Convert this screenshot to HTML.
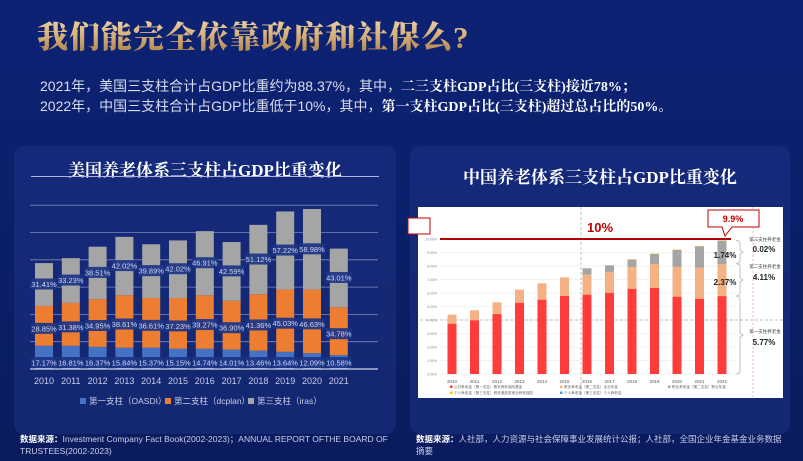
<!DOCTYPE html>
<html><head><meta charset="utf-8">
<style>
*{margin:0;padding:0;box-sizing:border-box}
body{width:803px;height:461px;overflow:hidden;background:linear-gradient(180deg,#0d2274 0%,#0b1f68 55%,#0a1c5e 100%);font-family:"Liberation Sans","Noto Sans CJK SC",sans-serif;position:relative;color:#fff}
.abs{position:absolute}
#title{left:37px;top:12px;font-family:"Liberation Serif","Noto Serif CJK SC",serif;font-weight:900;font-size:31px;letter-spacing:1px;background:linear-gradient(180deg,#f6e0b8 0%,#d9b27a 50%,#a77a44 100%);-webkit-background-clip:text;background-clip:text;color:transparent;white-space:nowrap}
.line{left:40px;font-size:14px;color:#d8dcec;white-space:nowrap}
.line b{font-family:"Liberation Serif","Noto Serif CJK SC",serif;color:#fff}
.panel{top:146px;height:288px;background:rgba(40,60,150,0.35);border-radius:10px}
.ptitle{font-family:"Liberation Serif","Noto Serif CJK SC",serif;font-weight:700;font-size:17px;color:#fff;white-space:nowrap;text-align:center}
.foot{font-size:8.5px;color:#c9cee6;line-height:12px}
.foot b{color:#fff}
</style></head><body>
<div id="title" class="abs">我们能完全依靠政府和社保么?</div>
<div class="abs line" style="top:76px">2021年，美国三支柱合计占GDP比重约为88.37%，其中，<b>二三支柱GDP占比(三支柱)接近78%；</b></div>
<div class="abs line" style="top:96px">2022年，中国三支柱合计占GDP比重低于10%，其中，<b>第一支柱GDP占比(三支柱)超过总占比的50%。</b></div>

<div class="abs panel" style="left:14px;width:382px"></div>
<div class="abs panel" style="left:410px;width:380px"></div>
<div class="abs ptitle" style="left:14px;width:382px;top:156px">美国养老体系三支柱占GDP比重变化</div>
<div class="abs" style="left:31px;top:176px;width:348px;height:1px;background:#aab4dc"></div>
<div class="abs ptitle" style="left:410px;width:380px;top:163px">中国养老体系三支柱占GDP比重变化</div>

<svg id="us" class="abs" style="left:0;top:0" width="803" height="461"></svg>
<div class="abs" style="left:418px;top:207px;width:365px;height:191px;background:#fff"></div>
<svg id="cn" class="abs" style="left:0;top:0" width="803" height="461"></svg>

<div class="abs foot" style="left:20px;top:433px;width:380px"><b>数据来源：</b>Investment Company Fact Book(2002-2023)；ANNUAL REPORT OFTHE BOARD OF TRUSTEES(2002-2023)</div>
<div class="abs foot" style="left:416px;top:433px;width:370px"><b>数据来源：</b>人社部，人力资源与社会保障事业发展统计公报；人社部，全国企业年金基金业务数据摘要</div>

<script>
const usYears=["2010","2011","2012","2013","2014","2015","2016","2017","2018","2019","2020","2021"];
const usFirst=[0.85,0.85,0.81,0.78,0.78,0.74,0.74,0.71,0.67,0.63,0.58,0.51];
const usSecond=[1.46,1.57,1.75,1.92,1.82,1.86,1.96,1.79,2.07,2.28,2.33,1.75];
const usThird=[1.57,1.64,1.92,2.14,1.97,2.11,2.35,2.15,2.54,2.86,2.95,2.15];
const usFirstLbl=["17.17%","16.81%","16.37%","15.84%","15.37%","15.15%","14.74%","14.01%","13.46%","13.64%","12.09%","10.58%"];
const usSecondLbl=["28.85%","31.38%","34.95%","38.61%","36.61%","37.23%","39.27%","36.90%","41.36%","45.03%","46.63%","34.78%"];
const usThirdLbl=["31.41%","33.23%","38.51%","42.02%","39.89%","42.02%","46.91%","42.59%","51.12%","57.22%","58.98%","43.01%"];
const usTicks=[1,2,3,4,5,6];

const cnYears=["2010","2011","2012","2013","2014","2015","2016","2017","2018","2019","2020","2021","2022"];
const cnFirst=[3.73,3.98,4.44,5.28,5.51,5.78,5.88,6.02,6.32,6.37,5.73,5.58,5.77];
const cnSecond=[0.67,0.74,0.87,0.97,1.21,1.38,1.48,1.54,1.61,1.78,2.20,2.30,2.37];
const cnThird=[0,0,0,0,0,0,0.47,0.49,0.54,0.74,1.26,1.58,1.74];
const cnYellow=[0,0,0,0,0,0,0,0,0.03,0.03,0.03,0.03,0.02];
const cnTicks=[0,1,2,3,4,5,6,7,8,9,10];

const NS="http://www.w3.org/2000/svg";
function mk(p,t,a,txt){const e=document.createElementNS(NS,t);for(const k in a)e.setAttribute(k,a[k]);if(txt!==undefined)e.textContent=txt;p.appendChild(e);return e;}

// US chart
const us=document.getElementById('us');
const uBase=369,uUnit=27.3;
const uy=v=>uBase-v*uUnit;
const ux=i=>44+i*26.8;
usTicks.forEach(t=>{const g=mk(us,'line',{x1:30,x2:378,y1:uy(t),y2:uy(t),stroke:'#7d88b8','stroke-width':0.8});
});
usYears.forEach((y,i)=>{
 const x=ux(i)-9;
 const a=usFirst[i],b=usSecond[i],c=usThird[i];
 const r1=mk(us,'rect',{x:x,y:uy(a),width:18,height:a*uUnit,fill:'#4472c4'});
 
 const r2=mk(us,'rect',{x:x,y:uy(a+b),width:18,height:b*uUnit,fill:'#ed7d31'});
 
 const r3=mk(us,'rect',{x:x,y:uy(a+b+c),width:18,height:c*uUnit,fill:'#a5a5a5'});
 
 const lbls=[[usFirstLbl[i],uBase-6],[usSecondLbl[i],uy(a+b/2)+3],[usThirdLbl[i],uy(a+b+c/2)]];
 lbls.forEach((L,k)=>{
  const bx=mk(us,'rect',{x:ux(i)-13,y:L[1]-6,width:26,height:11,fill:'#1d3486','fill-opacity':0.92});
  
  const t=mk(us,'text',{x:ux(i),y:L[1]+2.5,'text-anchor':'middle','font-size':7.5,fill:'#cfd6f0'},L[0]);
  
 });
 const yl=mk(us,'text',{x:ux(i),y:384,'text-anchor':'middle','font-size':9,fill:'#c8cde6'},y);
 
});
const ub=mk(us,'line',{x1:30,x2:378,y1:uBase,y2:uBase,stroke:'#fff','stroke-width':1});

[["#4472c4","第一支柱（OASDI）",80],["#ed7d31","第二支柱（dcplan）",165],["#a5a5a5","第三支柱（iras）",248]].forEach(L=>{
 const s=mk(us,'rect',{x:L[2],y:398,width:6,height:6,fill:L[0]});
 
 const t=mk(us,'text',{x:L[2]+9,y:404,'font-size':8.5,fill:'#c8cde6'},L[1]);
 
});

// CN chart
const cn=document.getElementById('cn');
const cBase=374,cUnit=13.5;
const cy=v=>cBase-v*cUnit;
const cx=i=>452+i*22.5;
cnTicks.forEach(t=>{
 const g=mk(cn,'line',{x1:440,x2:735,y1:cy(t),y2:cy(t),stroke:'#eeeeee','stroke-width':0.8});
 
 const tl=mk(cn,'text',{x:437,y:cy(t)+1.5,'text-anchor':'end','font-size':3.5,fill:'#888'},t.toFixed(2)+'%');
 
});
const d4=mk(cn,'line',{x1:420,x2:783,y1:cy(4),y2:cy(4),stroke:'#aaa','stroke-width':0.7,'stroke-dasharray':'3,2'});

const vd=mk(cn,'line',{x1:581,x2:581,y1:207,y2:398,stroke:'#aaa','stroke-width':0.7,'stroke-dasharray':'3,2'});

const rd=mk(cn,'line',{x1:753,x2:753,y1:207,y2:398,stroke:'#f4a3a3','stroke-width':0.8,'stroke-dasharray':'2,2'});

cnYears.forEach((y,i)=>{
 const x=cx(i)-4.5;let acc=0;
 [[cnFirst[i],'#ff3b3b','first'],[cnSecond[i],'#f4b183','second'],[cnThird[i],'#a5a5a5','third'],[cnYellow[i],'#ffc000','yellow']].forEach(S=>{
  if(S[0]<=0)return;
  const r=mk(cn,'rect',{x:x,y:cy(acc+S[0]),width:9,height:S[0]*cUnit,fill:S[1]});
  
  acc+=S[0];
 });
 const yl=mk(cn,'text',{x:cx(i),y:383,'text-anchor':'middle','font-size':4.5,fill:'#555'},y);
 
});
const rl=mk(cn,'line',{x1:440,x2:731,y1:cy(10),y2:cy(10),stroke:'#b30000','stroke-width':2});

const t10=mk(cn,'text',{x:600,y:232,'text-anchor':'middle','font-size':13,'font-weight':'bold',fill:'#c00000'},'10%');

const lb=mk(cn,'rect',{x:408,y:218,width:22,height:16,fill:'#fff',stroke:'#c00000','stroke-width':1});

const cb=mk(cn,'path',{d:'M708,210 H759 V227 H732 L725,236 L722,227 H708 Z',fill:'#fff',stroke:'#c00000','stroke-width':1});

const t99=mk(cn,'text',{x:733,y:222,'text-anchor':'middle','font-size':9,'font-weight':'bold',fill:'#c00000'},'9.9%');

[["1.74%",725,258],["2.37%",725,285]].forEach(L=>{
 const t=mk(cn,'text',{x:L[1],y:L[2],'text-anchor':'middle','font-size':8,'font-weight':'bold',fill:'#222'},L[0]);
 
});
[["第三支柱养老金","0.02%",241,252,cy(9.9),cy(8.16)],["第二支柱养老金","4.11%",268,280,cy(8.16),cy(5.77)],["第一支柱养老金","5.77%",333,345,cy(5.77),cy(0)]].forEach(L=>{
 const br=mk(cn,'path',{d:`M736,${L[4]} Q740,${L[4]} 740,${L[4]+3} V${(L[4]+L[5])/2-2} L743,${(L[4]+L[5])/2} L740,${(L[4]+L[5])/2+2} V${L[5]-3} Q740,${L[5]} 736,${L[5]}`,fill:'none',stroke:'#999','stroke-width':0.6});
 
 const a=mk(cn,'text',{x:765,y:L[2],'text-anchor':'middle','font-size':4.5,fill:'#444'},L[0]);
 
 const b=mk(cn,'text',{x:764,y:L[3],'text-anchor':'middle','font-size':8,'font-weight':'bold',fill:'#222'},L[1]);
 
});
[["#ff3b3b","公共养老金（第一支柱）基本养老保险基金",450,388],["#f4b183","职业养老金（第二支柱）企业年金",560,388],["#a5a5a5","职业养老金（第二支柱）职业年金",668,388],["#ffc000","个人养老金（第三支柱）税收递延型商业养老保险",450,394],["#5b9bd5","个人养老金（第三支柱）个人养老金",560,394]].forEach(L=>{
 const s=mk(cn,'rect',{x:L[2],y:L[3]-2.5,width:2.5,height:2.5,fill:L[0]});
 
 const t=mk(cn,'text',{x:L[2]+4,y:L[3],'font-size':3.6,fill:'#666'},L[1]);
 
});
</script>
</body></html>
